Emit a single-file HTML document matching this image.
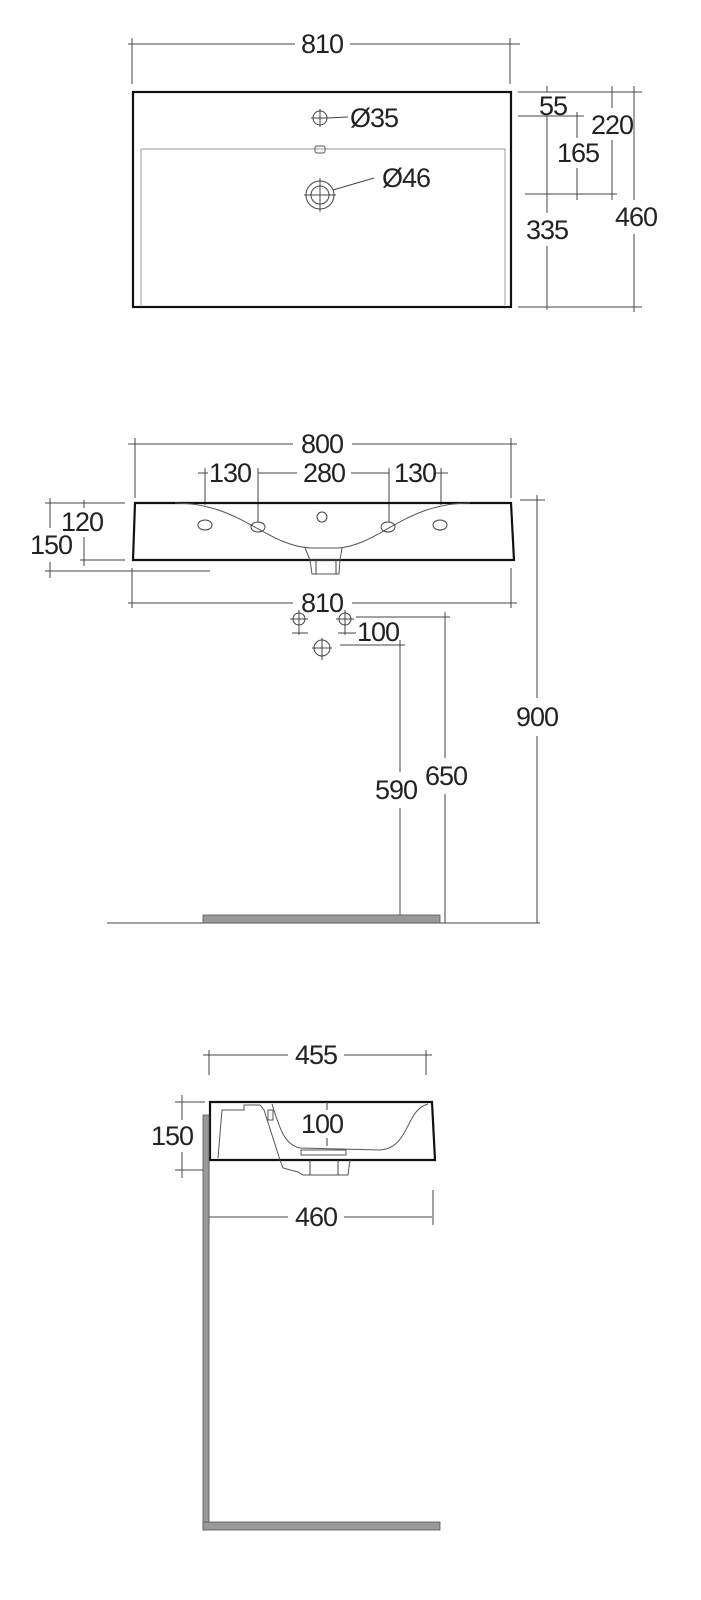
<!DOCTYPE html>
<html><head><style>
html,body{margin:0;padding:0;background:#fff;}
svg{display:block;}
text{font-family:"Liberation Sans",sans-serif;font-size:27px;fill:#222;text-anchor:middle;dominant-baseline:central;letter-spacing:-1px;}
</style></head><body>
<svg width="701" height="1600" viewBox="0 0 701 1600" xmlns="http://www.w3.org/2000/svg">
<g stroke="#444" stroke-width="1" fill="none">
<!-- TOP VIEW -->
<line x1="128" y1="44" x2="295" y2="44"/><line x1="350" y1="44" x2="520" y2="44"/>
<line x1="132" y1="38" x2="132" y2="84"/><line x1="510" y1="38" x2="510" y2="84"/>
<rect x="133" y="92" width="378" height="215" stroke="#111" stroke-width="2.2"/>
<polyline points="141,305 141,149 505,149 505,305" stroke="#999"/>
<circle cx="320" cy="118" r="7"/><line x1="311" y1="118" x2="329" y2="118"/><line x1="320" y1="109" x2="320" y2="127"/>
<line x1="327" y1="118" x2="348" y2="117"/>
<rect x="315" y="146" width="10" height="7" rx="2" stroke="#555"/>
<circle cx="320" cy="195" r="14"/><circle cx="320" cy="195" r="9"/>
<line x1="304" y1="195" x2="336" y2="195"/><line x1="320" y1="178" x2="320" y2="212"/>
<line x1="333" y1="190" x2="374" y2="178"/>
<!-- right dims -->
<line x1="518" y1="92" x2="642" y2="92"/>
<line x1="518" y1="116" x2="584" y2="116"/>
<line x1="525" y1="194" x2="617" y2="194"/>
<line x1="518" y1="307" x2="642" y2="307"/>
<line x1="547" y1="86" x2="547" y2="92"/><line x1="547" y1="116" x2="547" y2="213"/><line x1="547" y1="246" x2="547" y2="310"/>
<line x1="577" y1="112" x2="577" y2="138"/><line x1="577" y1="168" x2="577" y2="200"/>
<line x1="612" y1="86" x2="612" y2="108"/><line x1="612" y1="140" x2="612" y2="200"/>
<line x1="634" y1="86" x2="634" y2="200"/><line x1="634" y1="234" x2="634" y2="312"/>
<!-- FRONT VIEW -->
<line x1="128" y1="444" x2="293" y2="444"/><line x1="352" y1="444" x2="517" y2="444"/>
<line x1="135" y1="438" x2="135" y2="498"/><line x1="511" y1="438" x2="511" y2="498"/>
<line x1="198" y1="473" x2="208" y2="473"/><line x1="258" y1="473" x2="297" y2="473"/><line x1="351" y1="473" x2="389" y2="473"/><line x1="436" y1="473" x2="448" y2="473"/>
<line x1="205" y1="468" x2="205" y2="505"/><line x1="258" y1="468" x2="258" y2="522"/><line x1="389" y1="468" x2="389" y2="522"/><line x1="441" y1="468" x2="441" y2="505"/>
<polygon points="135,503 511,503 514,560 133,560" stroke="#111" stroke-width="2.2"/>
<path d="M175,503 C240,503 265,545 310,548 L338,548 C380,545 405,503 470,503" stroke="#555"/>
<ellipse cx="205" cy="525" rx="7" ry="5"/><ellipse cx="258" cy="527" rx="7" ry="5"/><circle cx="322" cy="517" r="5"/><ellipse cx="388" cy="527" rx="7" ry="5"/><ellipse cx="440" cy="525" rx="7" ry="5"/>
<path d="M305,548 L310,560 L312,574 L339,574 L340,560 L342,548" stroke="#555"/>
<line x1="310" y1="560" x2="340" y2="560" stroke="#555"/><line x1="316" y1="560" x2="316" y2="574"/><line x1="336" y1="560" x2="336" y2="574"/>
<line x1="45" y1="503" x2="125" y2="503"/><line x1="80" y1="560" x2="125" y2="560"/><line x1="45" y1="571" x2="210" y2="571"/>
<line x1="50" y1="498" x2="50" y2="528"/><line x1="50" y1="562" x2="50" y2="578"/>
<line x1="84" y1="500" x2="84" y2="508"/><line x1="84" y1="537" x2="84" y2="566"/>
<line x1="128" y1="603" x2="293" y2="603"/><line x1="352" y1="603" x2="517" y2="603"/>
<line x1="132" y1="568" x2="132" y2="608"/><line x1="511" y1="568" x2="511" y2="608"/>
<circle cx="299" cy="619" r="6"/><line x1="290" y1="619" x2="308" y2="619"/><line x1="299" y1="610" x2="299" y2="635"/><line x1="292" y1="633" x2="308" y2="633"/>
<circle cx="345" cy="619" r="6"/><line x1="336" y1="619" x2="354" y2="619"/><line x1="345" y1="610" x2="345" y2="635"/><line x1="338" y1="633" x2="356" y2="633"/>
<circle cx="322" cy="648" r="8"/><line x1="312" y1="648" x2="332" y2="648"/><line x1="322" y1="638" x2="322" y2="660"/>
<line x1="356" y1="617" x2="450" y2="617"/><line x1="340" y1="645" x2="405" y2="645"/>
<line x1="445" y1="612" x2="445" y2="758"/><line x1="445" y1="794" x2="445" y2="923"/>
<line x1="400" y1="640" x2="400" y2="772"/><line x1="400" y1="808" x2="400" y2="923"/>
<line x1="520" y1="500" x2="545" y2="500"/>
<line x1="537" y1="495" x2="537" y2="698"/><line x1="537" y1="736" x2="537" y2="923"/>
<line x1="107" y1="923" x2="540" y2="923"/>
<!-- SIDE VIEW -->
<line x1="203" y1="1055" x2="288" y2="1055"/><line x1="344" y1="1055" x2="432" y2="1055"/>
<line x1="209" y1="1050" x2="209" y2="1075"/><line x1="426" y1="1050" x2="426" y2="1075"/>
<polygon points="210,1102 432,1102 435,1160 210,1160" stroke="#111" stroke-width="2.2"/>
<path d="M218,1158 L222,1110 L244,1110 L244,1105 L260,1105 L264,1110 L280,1160" stroke="#555"/>
<path d="M272,1104 C280,1130 285,1145 300,1148 L380,1150 C410,1148 405,1110 428,1104" stroke="#555"/>
<path d="M280,1160 L283,1168 L298,1172 L303,1175 L348,1175 L350,1160" stroke="#555"/>
<rect x="301" y="1150" width="45" height="5" stroke="#555"/><line x1="310" y1="1160" x2="310" y2="1175"/><line x1="338" y1="1160" x2="338" y2="1175"/>
<rect x="268" y="1110" width="5" height="10" stroke="#555"/>
<line x1="327" y1="1102" x2="327" y2="1110"/><line x1="327" y1="1138" x2="327" y2="1146"/>
<line x1="175" y1="1102" x2="205" y2="1102"/><line x1="175" y1="1170" x2="205" y2="1170"/>
<line x1="182" y1="1095" x2="182" y2="1120"/><line x1="182" y1="1152" x2="182" y2="1178"/>
<line x1="203" y1="1217" x2="288" y2="1217"/><line x1="344" y1="1217" x2="432" y2="1217"/>
<line x1="209" y1="1160" x2="209" y2="1225"/><line x1="433" y1="1190" x2="433" y2="1225"/>
</g>
<g fill="#999" stroke="#555" stroke-width="0.8">
<rect x="203" y="915" width="237" height="8"/>
<rect x="203" y="1115" width="6" height="415"/>
<rect x="203" y="1522" width="237" height="8"/>
</g>
<text x="322" y="44">810</text>
<text x="374" y="118">Ø35</text>
<text x="406" y="178">Ø46</text>
<text x="553" y="106">55</text>
<text x="612" y="125">220</text>
<text x="578" y="153">165</text>
<text x="547" y="230">335</text>
<text x="636" y="217">460</text>
<text x="322" y="444">800</text>
<text x="230" y="473">130</text>
<text x="324" y="473">280</text>
<text x="415" y="473">130</text>
<text x="82" y="522">120</text>
<text x="51" y="545">150</text>
<text x="322" y="603">810</text>
<text x="378" y="632">100</text>
<text x="537" y="717">900</text>
<text x="396" y="790">590</text>
<text x="446" y="776">650</text>
<text x="316" y="1055">455</text>
<text x="172" y="1136">150</text>
<text x="322" y="1124">100</text>
<text x="316" y="1217">460</text>
</svg>
</body></html>
